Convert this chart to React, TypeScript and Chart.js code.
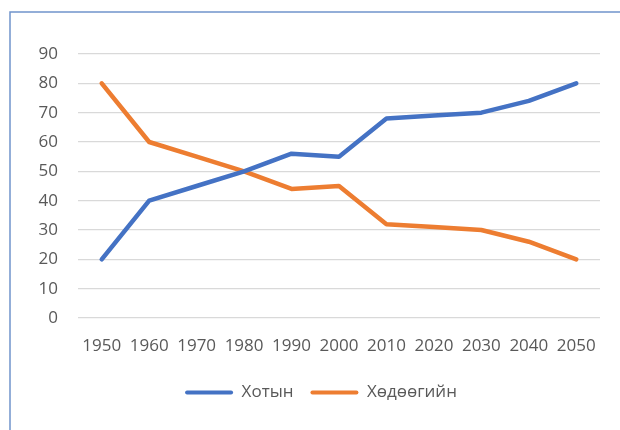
import React, { useEffect, useRef } from "react";
import { Chart, registerables } from "chart.js";

Chart.register(...registerables);

const years = ["1950", "1960", "1970", "1980", "1990", "2000", "2010", "2020", "2030", "2040", "2050"];
const urbanLabel = "Хотын";
const ruralLabel = "Хөдөөгийн";
const urban = [20, 40, 45, 50, 56, 55, 68, 69, 70, 74, 80];
const rural = [80, 60, 55, 50, 44, 45, 32, 31, 30, 26, 20];
const yMin = 0;
const yMax = 90;
const yStep = 10;

const BLUE = "#4472C4";
const ORANGE = "#ED7D31";
const TEXT = "#595959";
const GRID = "#D9D9D9";
const FONT = "'Open Sans', 'Noto Sans', sans-serif";

const borderPlugin = {
  id: "outerBorder",
  beforeDraw(chart: any) {
    const ctx = chart.ctx;
    ctx.save();
    ctx.strokeStyle = "#7094CC";
    ctx.lineWidth = 1.5;
    ctx.strokeRect(10, 12, 1000, 1000);
    ctx.restore();
  },
};

const legendShift = {
  id: "legendShift",
  afterLayout(chart: any) {
    const lg = chart.legend;
    if (lg) {
      lg.left += 6;
      lg.right += 6;
    }
  },
};

export default function App() {
  const ref = useRef<HTMLCanvasElement | null>(null);
  useEffect(() => {
    if (!ref.current) return;
    const chart = new Chart(ref.current, {
      type: "line",
      data: {
        labels: years,
        datasets: [
          {
            label: urbanLabel,
            data: urban,
            borderColor: BLUE,
            backgroundColor: BLUE,
            borderWidth: 4.5,
            pointRadius: 0,
            tension: 0,
            borderCapStyle: "round",
            borderJoinStyle: "round",
          },
          {
            label: ruralLabel,
            data: rural,
            borderColor: ORANGE,
            backgroundColor: ORANGE,
            borderWidth: 4.5,
            pointRadius: 0,
            tension: 0,
            borderCapStyle: "round",
            borderJoinStyle: "round",
          },
        ],
      },
      options: {
        responsive: false,
        animation: false,
        layout: { padding: { left: 30, right: 20, top: 54, bottom: 19 } },
        plugins: {
          tooltip: { enabled: false },
          legend: {
            position: "bottom",
            labels: {
              color: TEXT,
              font: { family: FONT, size: 17 },
              boxWidth: 48,
              boxHeight: 4,
              padding: 17,
              useBorderRadius: true,
              borderRadius: 2,
              generateLabels: (c: any) =>
                c.data.datasets.map((d: any, i: number) => ({
                  text: d.label,
                  fillStyle: d.borderColor,
                  strokeStyle: d.borderColor,
                  lineWidth: 0,
                  borderRadius: 2,
                  fontColor: TEXT,
                  hidden: false,
                  datasetIndex: i,
                })),
            },
          },
        },
        scales: {
          x: {
            offset: true,
            grid: { display: false },
            border: { display: false },
            ticks: {
              color: TEXT,
              font: { family: FONT, size: 17 },
              padding: 10,
              maxRotation: 0,
              autoSkip: false,
            },
            afterFit: (s: any) => {
              s.height = 49;
            },
          },
          y: {
            min: yMin,
            max: yMax,
            grid: { color: GRID, lineWidth: 1.3, drawTicks: false },
            border: { display: false },
            ticks: {
              stepSize: yStep,
              color: TEXT,
              font: { family: FONT, size: 17 },
              padding: 20,
            },
            afterFit: (s: any) => {
              s.width = 48;
            },
          },
        },
      },
      plugins: [borderPlugin, legendShift],
    } as any);
    return () => chart.destroy();
  }, []);
  return (
    <div style={{ position: "absolute", left: 0, top: 0, width: 620, height: 430, background: "#fff" }}>
      <canvas ref={ref} width={620} height={430} style={{ display: "block" }} />
    </div>
  );
}
